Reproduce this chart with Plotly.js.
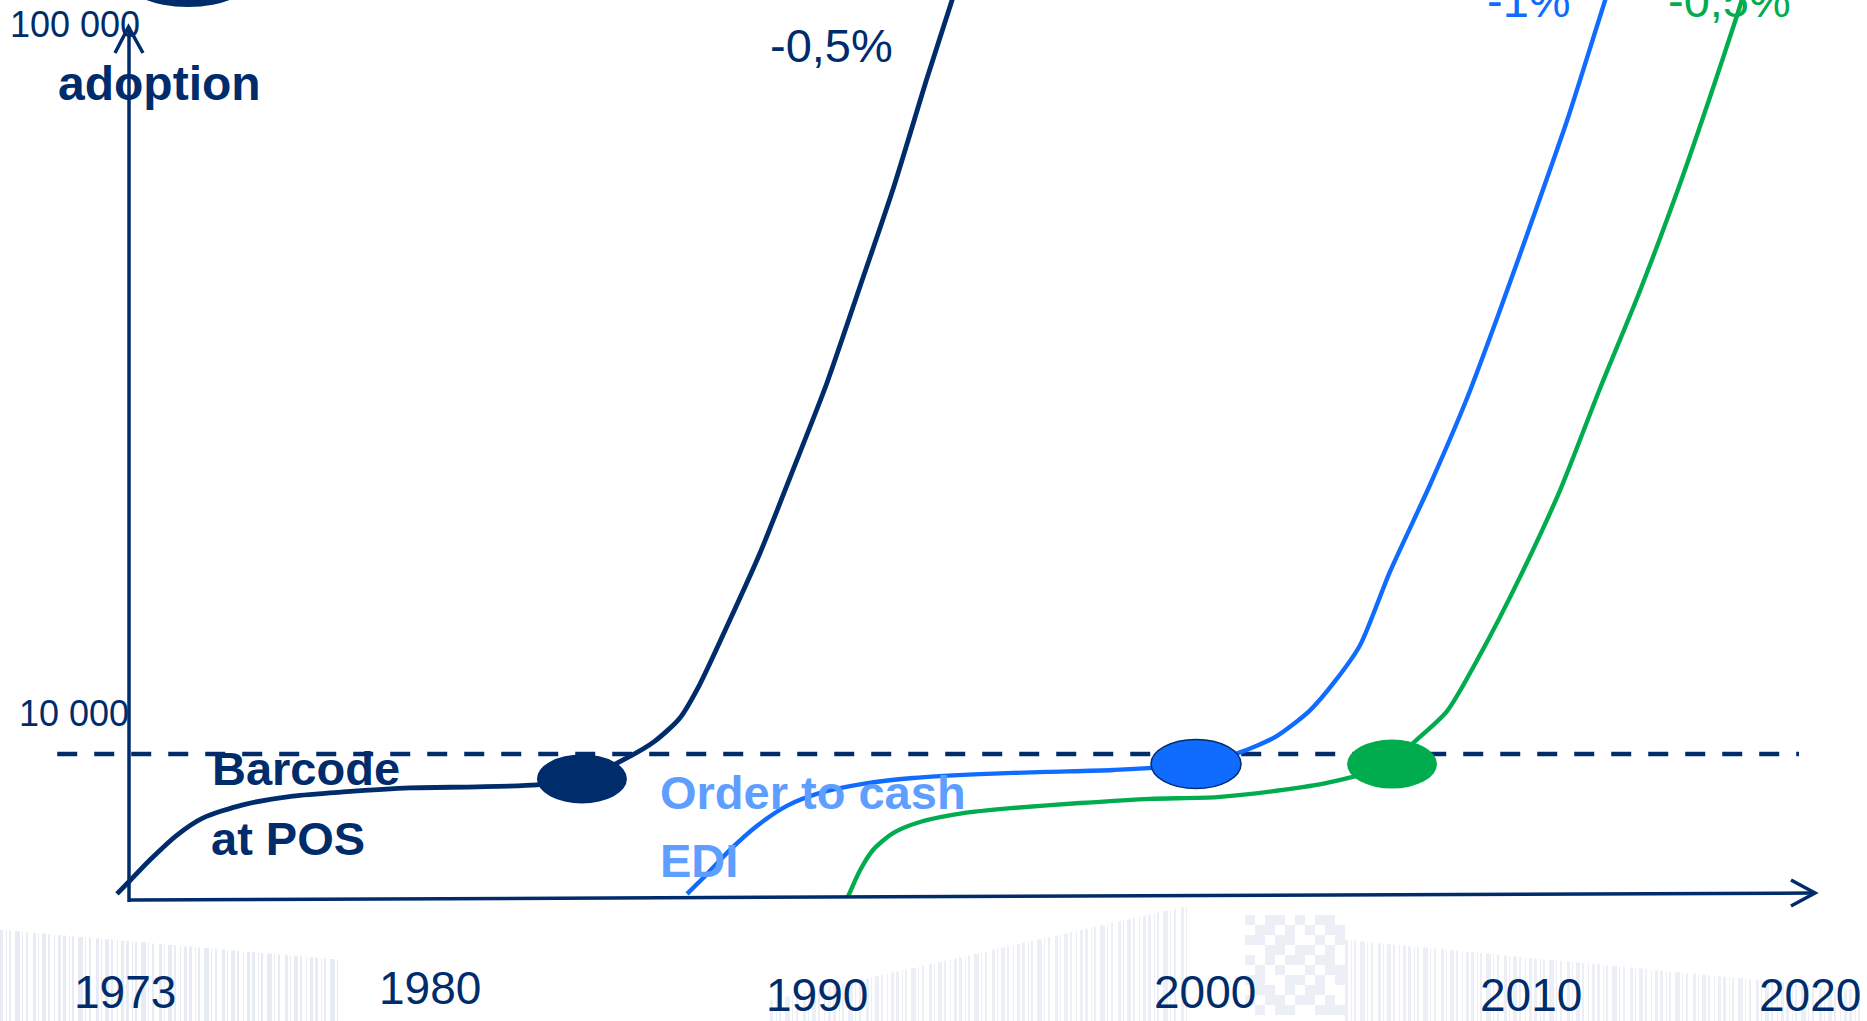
<!DOCTYPE html>
<html>
<head>
<meta charset="utf-8">
<script src="https://cdn.plot.ly/plotly-3.0.1.min.js"></script>
<style>
  html, body { margin: 0; padding: 0; background: #ffffff; }
  #chart { width: 1867px; height: 1021px; }
</style>
</head>
<body>
<div id="chart"></div>
<script>
// ---------------- data ----------------
const navyYears = [1972.77, 1973.13, 1973.69, 1974.45, 1975.18, 1976.29, 1977.69, 1979.09, 1980.96, 1982.84, 1984.51, 1985.77, 1987.03, 1987.81, 1988.51, 1989.07, 1989.83, 1990.75, 1991.67, 1992.62, 1993.55, 1994.47, 1995.42, 1996.12, 1996.28];
const navyAdoption = [6270, 6550, 7020, 7630, 8080, 8440, 8690, 8810, 8930, 8960, 9020, 9200, 9870, 10440, 11280, 12630, 15330, 19560, 25790, 34490, 47680, 65900, 95440, 123800, 132350];

const blueYears = [1988.71, 1989.27, 1989.91, 1990.67, 1991.50, 1992.43, 1993.63, 1995.03, 1996.90, 1998.77, 2000.62, 2002.94, 2004.11, 2005.15, 2006.12, 2006.82, 2007.53, 2008.36, 2009.48, 2010.52, 2011.44, 2012.36, 2013.31, 2013.87, 2014.38, 2014.57];
const blueAdoption = [6270, 6700, 7260, 7870, 8410, 8780, 9050, 9230, 9350, 9420, 9480, 9670, 10030, 10580, 11560, 12740, 14390, 18360, 24540, 32800, 44000, 59810, 82680, 102000, 123800, 132350];

const greenYears = [1993.21, 1993.55, 1993.91, 1994.47, 1995.22, 1996.43, 1997.82, 1999.70, 2001.65, 2003.53, 2005.37, 2006.60, 2008.42, 2009.01, 2009.96, 2010.88, 2012.00, 2013.12, 2014.24, 2015.35, 2016.47, 2017.31, 2018.07, 2018.37];
const greenAdoption = [6210, 6790, 7260, 7680, 7970, 8210, 8350, 8490, 8610, 8660, 8870, 9080, 9670, 10370, 11540, 13920, 18060, 24130, 33920, 46890, 67020, 89590, 117770, 132350];

const milestoneYears = [1985.77, 2002.94, 2008.42];
const milestoneAdoption = [9200, 9670, 9670];

const thresholdValue = 10000;
const thresholdSpan = [1971.1, 2019.8];

const yTickValues = [10000, 100000];
const yTickLabels = ['10 000', '100 000'];
const yearLabels = ['1973', '1980', '1990', '2000', '2010', '2020'];
const seriesNames = ['Barcode at POS', 'Order to cash EDI', 'Next'];
const changeLabels = ['-0,5%', '-1%', '-0,5%'];

// ---------------- styles ----------------
const NAVY = '#002C6C';
const BLUE = '#106CFF';
const GREEN = '#00AC4E';
const LIGHTBLUE = '#5E9EFF';
const WATERMARK = '#c9d3e4';
const FONT = 'Liberation Sans, Arial, Helvetica, sans-serif';

const W = 1867, H = 1021;
const px = v => v / W;
const py = v => 1 - v / H;
const PX_PER_DECADE = 690;

const traces = [
  { x: thresholdSpan, y: [thresholdValue, thresholdValue], mode: 'lines',
    line: { color: NAVY, width: 4.5, dash: '20px,17px' }, hoverinfo: 'skip' },
  { x: navyYears, y: navyAdoption, name: seriesNames[0], mode: 'lines',
    line: { color: NAVY, width: 4.8, shape: 'spline', smoothing: 0.7 }, hoverinfo: 'skip' },
  { x: blueYears, y: blueAdoption, name: seriesNames[1], mode: 'lines',
    line: { color: BLUE, width: 4.4, shape: 'spline', smoothing: 0.7 }, hoverinfo: 'skip' },
  { x: greenYears, y: greenAdoption, name: seriesNames[2], mode: 'lines',
    line: { color: GREEN, width: 4.4, shape: 'spline', smoothing: 0.7 }, hoverinfo: 'skip' }
];

const milestoneFill = [NAVY, BLUE, GREEN];
const milestoneLine = [0, 1.5, 0];

const shapes = [];

// faint barcode watermark along the bottom (decoration)
const stripeW = [3, 1, 2, 5, 1, 2, 3, 1, 4, 2, 1, 3];
const stripeG = [3, 2, 4, 2, 3, 5, 2, 3, 2, 4, 3, 2];
function stripes(xStart, xEnd, top0, top1, bottom, op) {
  let x = xStart, k = 0;
  while (x < xEnd) {
    const w = stripeW[k % stripeW.length];
    const t = top0 + (top1 - top0) * (x - xStart) / (xEnd - xStart);
    shapes.push({ type: 'rect', xref: 'paper', yref: 'paper', layer: 'below',
      x0: px(x), x1: px(x + w), y0: py(bottom), y1: py(t),
      fillcolor: WATERMARK, opacity: op, line: { width: 0 } });
    x += w + stripeG[k % stripeG.length];
    k++;
  }
}
stripes(0, 340, 930, 960, 1021, 0.45);
stripes(770, 1190, 1000, 905, 1021, 0.35);
stripes(1345, 1860, 940, 990, 1021, 0.35);
// faint 2D-code pattern
const codeBits = ['1011010110', '0110101011', '1101100101', '0011011010', '1010110110',
                  '0101001011', '1100110101', '0110101100', '1011011010', '0101100111'];
codeBits.forEach((row, r) => {
  row.split('').forEach((b, c) => {
    if (b === '1') {
      shapes.push({ type: 'rect', xref: 'paper', yref: 'paper', layer: 'below',
        x0: px(1245 + c * 10), x1: px(1255 + c * 10), y0: py(915 + r * 10 + 10), y1: py(915 + r * 10),
        fillcolor: WATERMARK, opacity: 0.35, line: { width: 0 } });
    }
  });
});

// axes
shapes.push({ type: 'line', xref: 'paper', yref: 'paper', x0: px(129), y0: py(902), x1: px(129), y1: py(27),
  line: { color: NAVY, width: 3.5 } });
shapes.push({ type: 'path', xref: 'paper', yref: 'paper',
  path: `M ${px(115)},${py(53)} L ${px(128.5)},${py(27)} L ${px(143)},${py(53)}`,
  line: { color: NAVY, width: 3.5 } });
shapes.push({ type: 'line', xref: 'paper', yref: 'paper', x0: px(129), y0: py(900), x1: px(1814), y1: py(893),
  line: { color: NAVY, width: 3.5 } });
shapes.push({ type: 'path', xref: 'paper', yref: 'paper',
  path: `M ${px(1791)},${py(880)} L ${px(1815)},${py(893)} L ${px(1791)},${py(906)}`,
  line: { color: NAVY, width: 3.5 } });
// partially visible ellipse at the top
shapes.push({ type: 'circle', xref: 'paper', yref: 'paper', x0: px(123), x1: px(253), y0: py(7), y1: py(-53),
  fillcolor: NAVY, line: { width: 0 } });
// milestone ellipses (90 x 49 px) centred on the milestone points
const halfH = Math.pow(10, 24.5 / PX_PER_DECADE);
milestoneYears.forEach((yr, i) => {
  shapes.push({ type: 'circle', xref: 'x', yref: 'y', xsizemode: 'pixel',
    xanchor: yr, x0: -45, x1: 45,
    y0: milestoneAdoption[i] / halfH, y1: milestoneAdoption[i] * halfH,
    fillcolor: milestoneFill[i],
    line: { color: NAVY, width: milestoneLine[i] } });
});

const yearLabelX = [125, 430, 817, 1205, 1531, 1810];
const yearLabelY = [992, 988, 995, 992, 995, 995];

const annotations = [];
yTickValues.forEach((v, i) => {
  annotations.push({ text: yTickLabels[i], xref: 'paper', yref: 'y', x: px(i === 0 ? 131 : 142), y: Math.log10(v),
    yshift: 40, xanchor: 'right', yanchor: 'middle', showarrow: false,
    font: { family: FONT, size: 36, color: NAVY } });
});
yearLabels.forEach((t, i) => {
  annotations.push({ text: t, xref: 'paper', yref: 'paper', x: px(yearLabelX[i]), y: py(yearLabelY[i]),
    xanchor: 'center', yanchor: 'middle', showarrow: false,
    font: { family: FONT, size: 46, color: NAVY } });
});
annotations.push({ text: '<b>adoption</b>', xref: 'paper', yref: 'paper', x: px(159), y: py(83),
  xanchor: 'center', yanchor: 'middle', showarrow: false, font: { family: FONT, size: 48, color: NAVY } });
annotations.push({ text: '<b>Barcode</b>', xref: 'paper', yref: 'paper', x: px(210), y: py(768),
  xanchor: 'left', yanchor: 'middle', showarrow: false, font: { family: FONT, size: 47, color: NAVY } });
annotations.push({ text: '<b>at POS</b>', xref: 'paper', yref: 'paper', x: px(209), y: py(838),
  xanchor: 'left', yanchor: 'middle', showarrow: false, font: { family: FONT, size: 47, color: NAVY } });
annotations.push({ text: '<b>Order to cash</b>', xref: 'paper', yref: 'paper', x: px(658), y: py(792),
  xanchor: 'left', yanchor: 'middle', showarrow: false, font: { family: FONT, size: 47, color: LIGHTBLUE } });
annotations.push({ text: '<b>EDI</b>', xref: 'paper', yref: 'paper', x: px(658), y: py(860),
  xanchor: 'left', yanchor: 'middle', showarrow: false, font: { family: FONT, size: 47, color: LIGHTBLUE } });
annotations.push({ text: changeLabels[0], xref: 'paper', yref: 'paper', x: px(831), y: py(45),
  xanchor: 'center', yanchor: 'middle', showarrow: false, font: { family: FONT, size: 47, color: NAVY } });
// the two right-hand labels sit at the very top edge, partly cut off as in the original
annotations.push({ text: changeLabels[1], xref: 'paper', yref: 'paper', x: px(1529), y: py(0),
  xanchor: 'center', yanchor: 'middle', showarrow: false, font: { family: FONT, size: 47, color: BLUE } });
annotations.push({ text: changeLabels[2], xref: 'paper', yref: 'paper', x: px(1729), y: py(0),
  xanchor: 'center', yanchor: 'middle', showarrow: false, font: { family: FONT, size: 47, color: GREEN } });

const layout = {
  width: W, height: H,
  margin: { l: 0, r: 0, t: 0, b: 0, pad: 0 },
  paper_bgcolor: '#ffffff', plot_bgcolor: 'rgba(0,0,0,0)',
  showlegend: false,
  xaxis: { range: [1969.5, 2021.7], showgrid: false, zeroline: false, showline: false,
    showticklabels: false, ticks: '', fixedrange: true },
  yaxis: { type: 'log', range: [3.6130, 5.0928], showgrid: false, zeroline: false, showline: false,
    showticklabels: false, ticks: '', fixedrange: true },
  shapes: shapes,
  annotations: annotations,
  font: { family: FONT, color: NAVY }
};

Plotly.newPlot('chart', traces, layout, { displayModeBar: false, staticPlot: true });
</script>
</body>
</html>
